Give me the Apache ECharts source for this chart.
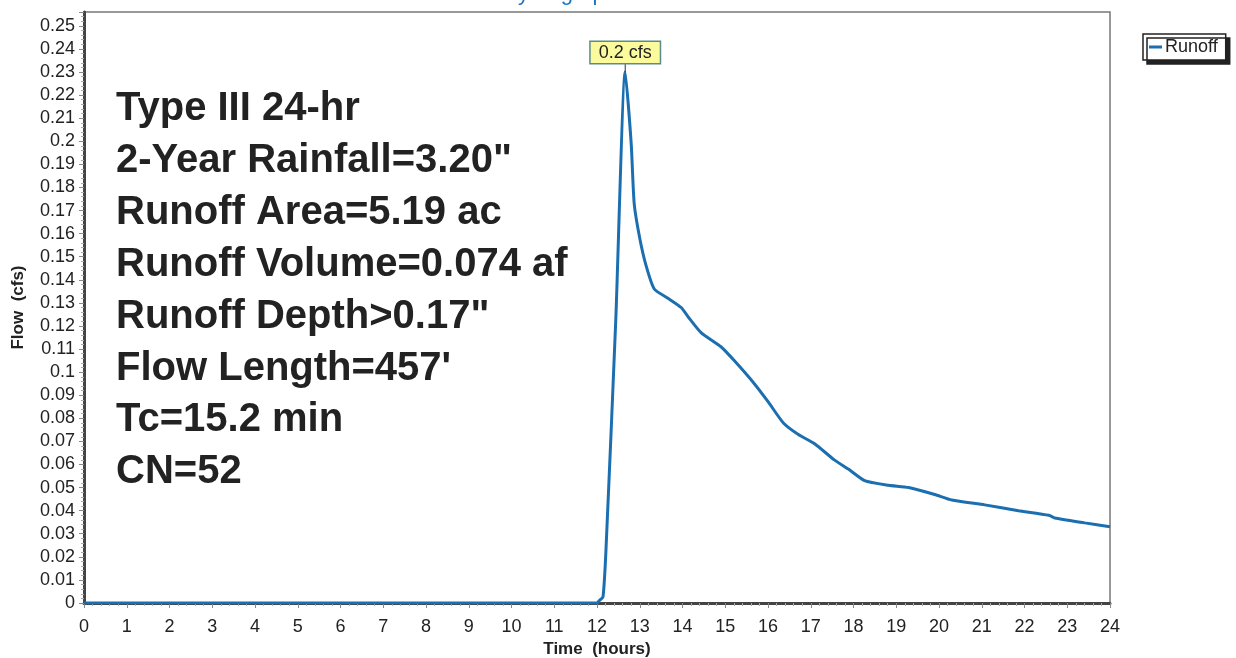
<!DOCTYPE html>
<html>
<head>
<meta charset="utf-8">
<script src="https://cdn.jsdelivr.net/npm/echarts@6/dist/echarts.min.js"></script>
<style>
  html, body { margin: 0; padding: 0; background: #fff; }
  #chart { width: 1236px; height: 658px; }
</style>
</head>
<body>
<div id="chart"></div>
<script>
// hydrograph
var times = [0, 12.0, 12.05, 12.14, 12.21, 12.44, 12.66, 12.8, 12.87, 13.0, 13.15, 13.34, 13.66, 13.97, 14.13, 14.44, 14.9, 15.21, 15.68, 16.01, 16.36, 16.71, 17.09, 17.55, 17.88, 18.26, 18.82, 19.29, 19.9, 20.3, 21.07, 21.86, 22.57, 22.71, 23.41, 24.0];
var flows = [0, 0, 0.001, 0.0026, 0.023, 0.123, 0.230, 0.199, 0.173, 0.158, 0.146, 0.136, 0.132, 0.128, 0.124, 0.117, 0.111, 0.105, 0.095, 0.087, 0.078, 0.073, 0.069, 0.062, 0.058, 0.053, 0.051, 0.050, 0.047, 0.0446, 0.0425, 0.040, 0.038, 0.0368, 0.0347, 0.033];
var notes = ['Type III 24-hr', '2-Year Rainfall=3.20"', 'Runoff Area=5.19 ac', 'Runoff Volume=0.074 af', 'Runoff Depth>0.17"', "Flow Length=457'", 'Tc=15.2 min', 'CN=52'];
var peakLabel = '0.2 cfs';

var font = '"Liberation Sans", Arial, sans-serif';
var lineColor = '#1b6fb0';

var points = times.map(function (t, i) { return [t, flows[i]]; });
var peakIdx = flows.indexOf(Math.max.apply(null, flows));

var graphics = notes.map(function (txt, i) {
  return {
    type: 'text',
    left: 116,
    top: 89 + i * 51.9,
    style: { text: txt, font: 'bold 40px ' + font, fill: '#222' }
  };
});

var chart = echarts.init(document.getElementById('chart'));
chart.setOption({
  animation: false,
  backgroundColor: '#fff',
  title: {
    text: 'Hydrograph',
    left: 497,
    top: -22,
    textStyle: { color: '#1a75c0', fontSize: 22, fontWeight: 'normal', fontFamily: font }
  },
  legend: {
    left: 1143,
    top: 34,
    data: ['Runoff'],
    icon: 'rect',
    itemWidth: 13,
    itemHeight: 3,
    itemGap: 4,
    padding: [4, 8, 4, 6],
    backgroundColor: '#fff',
    borderColor: '#222',
    borderWidth: 1.5,
    shadowColor: '#222',
    shadowBlur: 0,
    shadowOffsetX: 4,
    shadowOffsetY: 4,
    textStyle: { fontSize: 18, color: '#222', fontFamily: font, padding: [0, 0, 0, -2] }
  },
  grid: {
    left: 84, top: 12, right: 126, bottom: 55,
    outerBoundsMode: 'none',
    containLabel: false,
    show: true, borderColor: '#777', borderWidth: 1.5
  },
  xAxis: {
    type: 'value',
    min: 0, max: 24, interval: 1,
    name: 'Time  (hours)',
    nameLocation: 'middle',
    nameGap: 38,
    nameTextStyle: { fontSize: 17, fontWeight: 'bold', color: '#222', fontFamily: font },
    axisLine: { show: true, lineStyle: { color: '#444', width: 3 } },
    axisTick: { show: true, length: 5, lineStyle: { color: '#888' } },
    minorTick: { show: true, splitNumber: 5, length: 3, lineStyle: { color: '#aaa' } },
    axisLabel: { fontSize: 18, color: '#222', fontFamily: font, margin: 15 },
    splitLine: { show: false }
  },
  yAxis: {
    type: 'value',
    min: 0, max: 0.256, interval: 0.01,
    name: 'Flow  (cfs)',
    nameLocation: 'middle',
    nameGap: 57,
    nameRotate: 90,
    nameTextStyle: { fontSize: 17, fontWeight: 'bold', color: '#222', fontFamily: font },
    axisLine: { show: true, lineStyle: { color: '#444', width: 3 } },
    axisTick: { show: true, length: 5, lineStyle: { color: '#888' } },
    minorTick: { show: true, splitNumber: 5, length: 3, lineStyle: { color: '#aaa' } },
    axisLabel: { fontSize: 18, color: '#222', fontFamily: font, margin: 9, showMaxLabel: false },
    splitLine: { show: false }
  },
  graphic: graphics,
  series: [{
    name: 'Runoff',
    type: 'line',
    data: points,
    symbol: 'none',
    smooth: 0.2,
    lineStyle: { color: lineColor, width: 3 },
    itemStyle: { color: lineColor },
    markPoint: {
      symbol: 'rect',
      symbolSize: [1, 9],
      symbolOffset: [0, -4.5],
      itemStyle: { color: '#333' },
      label: {
        show: true,
        position: 'top',
        distance: 0,
        formatter: peakLabel,
        backgroundColor: '#fbfb9e',
        borderColor: '#5b8c8c',
        borderWidth: 1.5,
        padding: [2, 8, 1, 8],
        fontSize: 18,
        color: '#222',
        fontFamily: font
      },
      data: [{ coord: points[peakIdx] }]
    }
  }]
});
</script>
</body>
</html>
